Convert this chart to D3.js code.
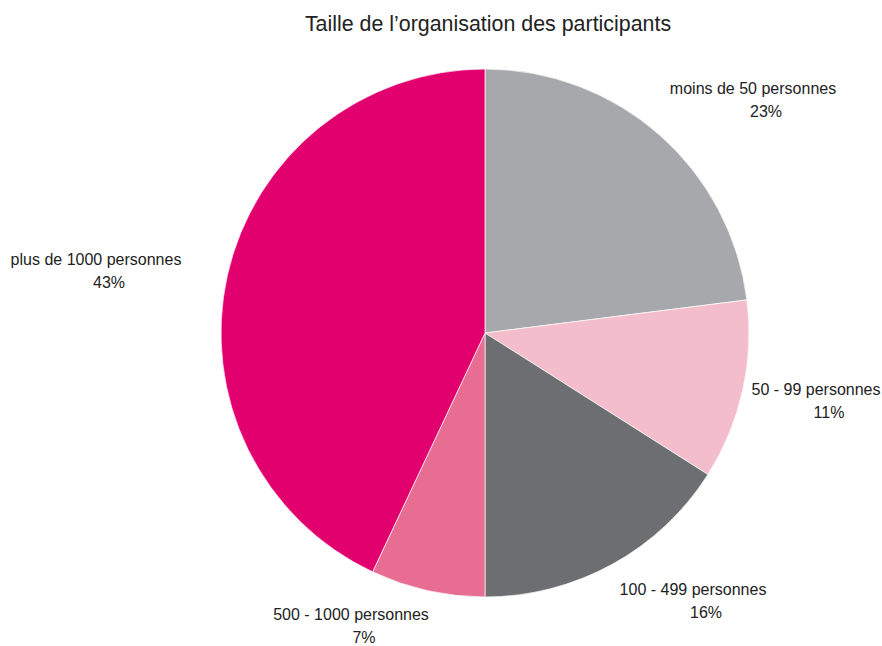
<!DOCTYPE html>
<html><head><meta charset="utf-8">
<script src="https://cdn.jsdelivr.net/npm/d3@7"></script>
<style>
html,body{margin:0;padding:0;background:#fff;}
svg{display:block;font-family:"Liberation Sans",Arial,Helvetica,sans-serif;}
</style></head>
<body>
<svg id="chart" width="882" height="646"></svg>
<script>
const title = "Taille de l\u2019organisation des participants";
const categories = ["moins de 50 personnes","50 - 99 personnes","100 - 499 personnes","500 - 1000 personnes","plus de 1000 personnes"];
const values = [23, 11, 16, 7, 43];
const colors = ["#a7a8ac", "#f4bdcb", "#6d6e71", "#e76d93", "#e2006f"];
// label placement (layout only): offset of first-line center/baseline from pie center
const labelOffsets = [[268,-239],[331,62],[208,262],[-134,287],[-389,-68]];

const W = 882, H = 646;
const cx = 485, cy = 333, R = 264;
const svg = d3.select("#chart");

svg.append("text").attr("x", 488).attr("y", 31).attr("text-anchor","middle")
  .attr("font-size", 21.4).attr("fill","#222").text(title);

const data = categories.map((c,i)=>({cat:c, value:values[i], color:colors[i], off:labelOffsets[i]}));
const pie = d3.pie().value(d=>d.value).sort(null);
const arc = d3.arc().innerRadius(0).outerRadius(R);
const g = svg.append("g").attr("transform",`translate(${cx},${cy})`);
g.selectAll("path").data(pie(data)).join("path")
  .attr("d", arc).attr("fill", d=>d.data.color)
  .attr("stroke","#fff").attr("stroke-width",0.7);

const total = d3.sum(values);
const lab = g.selectAll("g.lab").data(pie(data)).join("g").attr("class","lab")
  .attr("transform", d=>`translate(${d.data.off[0]},${d.data.off[1]})`);
lab.append("text").attr("text-anchor","middle").attr("font-size",16).attr("fill","#222")
  .text(d=>d.data.cat);
lab.append("text").attr("text-anchor","middle").attr("font-size",16).attr("fill","#222")
  .attr("x",13).attr("y",23)
  .text(d=>Math.round(d.data.value/total*100)+"%");
</script>
</body></html>
